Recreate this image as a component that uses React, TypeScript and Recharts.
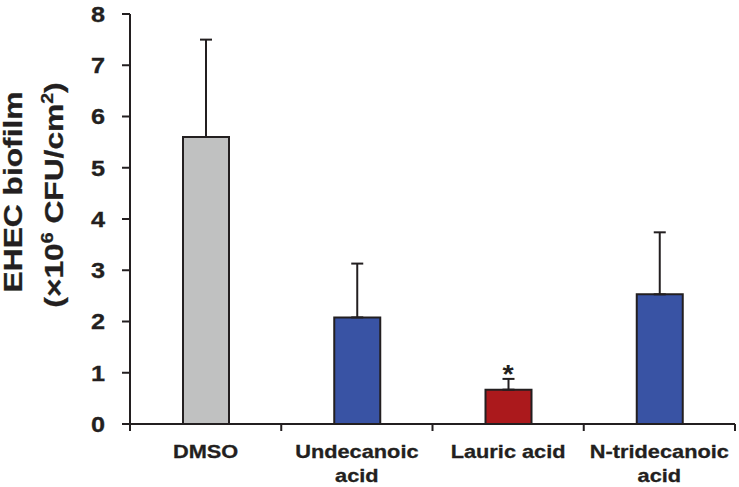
import React from 'react';
import { BarChart, Bar, XAxis, YAxis, ErrorBar, Cell, ReferenceDot } from 'recharts';

const categories = ['DMSO', 'Undecanoic acid', 'Lauric acid', 'N-tridecanoic acid'];
const categoryLabelLines = [['DMSO'], ['Undecanoic', 'acid'], ['Lauric acid'], ['N-tridecanoic', 'acid']];
const meanValues = [5.6, 2.08, 0.67, 2.53];
const upperErrorValues = [7.5, 3.13, 0.88, 3.74];
const barColors = ['#c0c1c1', '#3953a4', '#ab191c', '#3953a4'];
const significance = ['', '', '*', ''];
const yTicks = [0, 1, 2, 3, 4, 5, 6, 7, 8];
const xBoundaryTicks = [0, 1, 2, 3, 4];

const INK = '#231f20';
const FONT = '"Liberation Sans", Arial, Helvetica, sans-serif';

const data = categories.map((c, i) => ({
  x: i + 0.5,
  name: c,
  value: meanValues[i],
  err: [0, +(upperErrorValues[i] - meanValues[i]).toFixed(3)],
}));

const xTickValues = [...xBoundaryTicks, ...categories.map((_, i) => i + 0.5)].sort((a, b) => a - b);

const XTick = (props: any) => {
  const { x, y, payload } = props;
  const v = payload.value;
  if (Number.isInteger(v)) {
    return <line x1={x} x2={x} y1={y} y2={y + 7} stroke={INK} strokeWidth={2} />;
  }
  const idx = Math.floor(v);
  const lines = categoryLabelLines[idx] || [];
  return (
    <g>
      {lines.map((l, i) => (
        <g key={i} transform={`translate(${x},${y + 34 + i * 24}) scale(1.17,1)`}>
          <text x={0} y={0} textAnchor="middle" fontFamily={FONT} fontWeight="bold" fontSize={18.6} fill={INK} stroke={INK} strokeWidth={0.3}>
            {l}
          </text>
        </g>
      ))}
    </g>
  );
};

const YTick = (props: any) => {
  const { x, y, payload } = props;
  return (
    <g transform={`translate(${x},${y}) scale(1.15,1)`}>
      <text x={0} y={0} dy="0.36em" textAnchor="end" fontFamily={FONT} fontWeight="bold" fontSize={22} fill={INK} stroke={INK} strokeWidth={0.3}>
        {payload.value}
      </text>
    </g>
  );
};

const YLabel = () => (
  <g>
    <g transform="translate(22,192) rotate(-90) scale(1.22,1)">
      <text x={0} y={0} textAnchor="middle" fontFamily={FONT} fontWeight="bold" fontSize={26} fill={INK} stroke={INK} strokeWidth={0.3}>
        EHEC biofilm
      </text>
    </g>
    <g transform="translate(63,195) rotate(-90) scale(1.22,1)">
      <text x={0} y={0} textAnchor="middle" fontFamily={FONT} fontWeight="bold" fontSize={26} fill={INK} stroke={INK} strokeWidth={0.3}>
        <tspan>(×10</tspan>
        <tspan fontSize={16} dy={-10}>6</tspan>
        <tspan dy={10}> CFU/cm</tspan>
        <tspan fontSize={16} dy={-10}>2</tspan>
        <tspan dy={10}>)</tspan>
      </text>
    </g>
  </g>
);

const StarLabel = (text: string) => (props: any) => {
  const vb = props.viewBox || {};
  const cx = (vb.x ?? 0) + (vb.width ?? 0) / 2;
  const cy = (vb.y ?? 0) + (vb.height ?? 0) / 2;
  return (
    <g transform={`translate(${cx},${cy + 4}) scale(1.15,1)`}>
      <text x={0} y={0} textAnchor="middle" fontFamily={FONT} fontWeight="bold" fontSize={25} fill={INK}>
        {text}
      </text>
    </g>
  );
};

export default function App() {
  return (
    <div style={{ position: 'absolute', left: 0, top: 0, width: 739, height: 487, background: '#fff' }}>
      <BarChart width={739} height={487} data={data} margin={{ top: 14, right: 4, bottom: 0, left: 70 }}>
        <XAxis
          type="number"
          dataKey="x"
          domain={[0, 4]}
          ticks={xTickValues}
          interval={0}
          allowDecimals
          height={63}
          tickSize={0}
          tickMargin={0}
          tickLine={false}
          axisLine={{ stroke: INK, strokeWidth: 2 }}
          tick={<XTick />}
        />
        <YAxis
          type="number"
          domain={[0, 8]}
          ticks={yTicks}
          interval={0}
          width={60}
          tickSize={8}
          tickMargin={17}
          tickLine={{ stroke: INK, strokeWidth: 2 }}
          axisLine={{ stroke: INK, strokeWidth: 2 }}
          tick={<YTick />}
          label={<YLabel />}
        />
        <Bar dataKey="value" barSize={46} stroke={INK} strokeWidth={2} isAnimationActive={false}>
          {data.map((d, i) => (
            <Cell key={i} fill={barColors[i]} />
          ))}
          <ErrorBar dataKey="err" direction="y" width={6} stroke={INK} strokeWidth={2} isAnimationActive={false} />
        </Bar>
        {significance.map((s, i) =>
          s ? (
            <ReferenceDot
              key={i}
              x={i + 0.5}
              y={upperErrorValues[i]}
              r={0.01}
              fill="none"
              stroke="none"
              ifOverflow="visible"
              label={StarLabel(s)}
            />
          ) : null
        )}
      </BarChart>
    </div>
  );
}
